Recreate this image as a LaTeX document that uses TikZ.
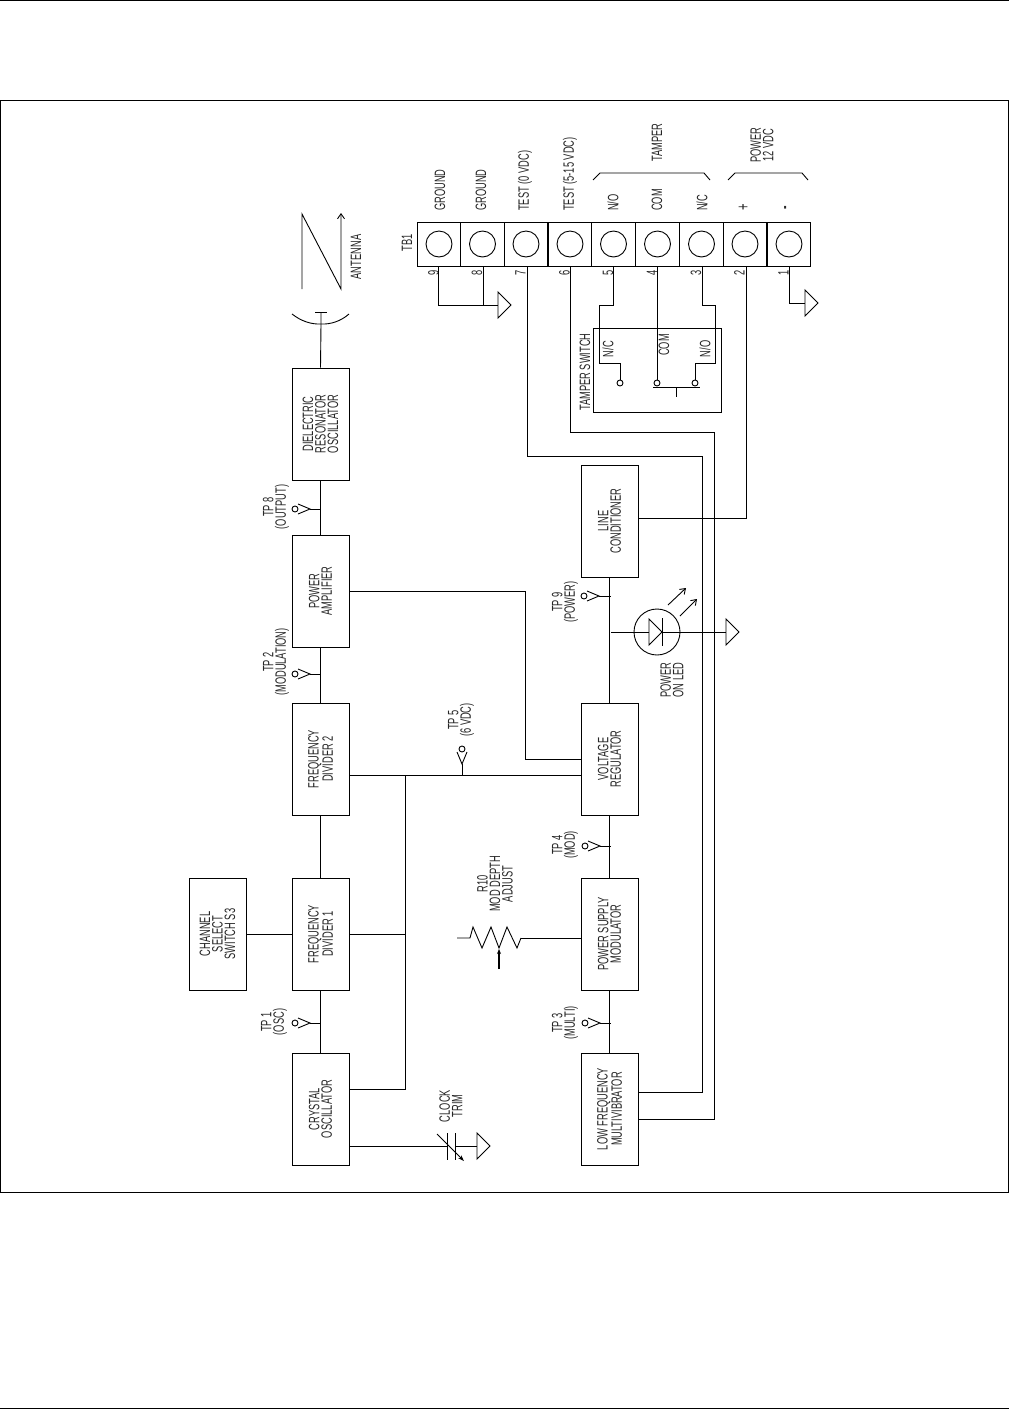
\documentclass[tikz,border=0pt]{standalone}
\usepackage{fontspec}
\setmainfont[FakeStretch=0.62]{Liberation Sans}
\usetikzlibrary{arrows.meta}
\tikzset{
  wire/.style={line width=0.9pt},
  blockbox/.style={draw,line width=1pt,rotate=90,minimum width=112pt,minimum height=57pt,inner sep=0pt,align=center,text=black!85,font=\fontsize{15}{12.5}\selectfont},
  lbl/.style={rotate=90,align=center,inner sep=0pt,text=black!85,font=\fontsize{15}{12.5}\selectfont},
  openarrow/.style={wire,-{Straight Barb[length=5pt,width=7pt]}},
  gndtip/.pic={\draw[wire] (0,-13) -- (13,0) -- (0,13) -- cycle;},
  tpoint/.pic={\draw[wire] (-12,-5) -- (0,0) -- (-12,5); \draw[wire] (-15,0) circle (3);},
}
\newcommand{\TermCell}[2]{%
  \node[draw,line width=1pt,minimum width=43.7pt,minimum height=44pt,inner sep=0pt] (t#1) at (#2,244) {};
  \draw[wire] (t#1.center) circle (13);
}
\begin{document}
\begin{tikzpicture}[x=1pt,y=-1pt]
\useasboundingbox (0,0) rectangle (1009,1409);
% page rules and frame
\draw[line width=1pt] (0,0.5) -- (1009,0.5);
\draw[line width=1pt] (0,1408) -- (1009,1408);
\draw[line width=1pt] (0.7,100) rectangle (1008,1192);
% blocks
\node[blockbox] (dro) at (320.5,424) {DIELECTRIC\\RESONATOR\\OSCILLATOR};
\node[blockbox] (pamp) at (320.5,591) {POWER\\AMPLIFIER};
\node[blockbox] (fdtwo) at (320.5,759) {FREQUENCY\\DIVIDER 2};
\node[blockbox] (fdone) at (320.5,934) {FREQUENCY\\DIVIDER 1};
\node[blockbox] (xtal) at (320.5,1109) {CRYSTAL\\OSCILLATOR};
\node[blockbox] (chsel) at (217.5,934) {CHANNEL\\SELECT\\SWITCH S3};
\node[blockbox] (linec) at (609.5,521) {LINE\\CONDITIONER};
\node[blockbox] (vreg) at (609.5,759) {VOLTAGE\\REGULATOR};
\node[blockbox] (psmod) at (609.5,934) {POWER SUPPLY\\MODULATOR};
\node[blockbox] (lfm) at (609.5,1109) {LOW FREQUENCY\\MULTIVIBRATOR};
% terminal block
\foreach \n/\x in {9/439,8/482.5,7/526,6/570,5/613.5,4/657.5,3/701.5,2/745,1/789}{
  \TermCell{\n}{\x}
  \node[lbl] (n\n) at (\x-5.5,273) {\n};
}
\node[lbl] (tbone) at (407,243) {TB1};
\foreach \nm/\x/\txt in {a/440/GROUND,b/481/GROUND,c/525/TEST (0 VDC),d/570/TEST (5-15 VDC),e/613/{N/O},f/657/COM,g/702/{N/C}}{
  \node[lbl,anchor=west] (top\nm) at (\x,211) {\txt};
}
\node[lbl,font=\fontsize{18}{18}\selectfont] (plus) at (744,207) {+};
\node[lbl,font=\bfseries\fontsize{17}{17}\selectfont] (minus) at (787,208) {-};
\node[lbl,anchor=west] (tamper) at (657,162) {TAMPER};
\node[lbl,anchor=west] (pwr) at (762,163) {POWER\\12 VDC};
\draw[wire] (593,180) -- (600,173) -- (704,173) -- (710,180);
\draw[wire] (728,180) -- (735,173) -- (802,173) -- (808,180);
% antenna
\coordinate (dish) at (321,324);
\draw[wire] (dro.east) -- (dish) -- (321,312);
\draw[wire] (315,312) -- (327,312);
\draw[wire] (292,314) .. controls (301,321) and (311,324.5) .. (dish) .. controls (331,324.5) and (341,321) .. (349,314);
\draw[openarrow] (302,289) -- (302,214) -- (341,289) -- (341,213);
\node[lbl] (ant) at (356,257) {ANTENNA};
% grounds on the terminal block
\coordinate (gnda) at (498,305);
\coordinate (gndb) at (805,303);
\draw[wire] (438,266) -- (438,305) -- (gnda);
\draw[wire] (483,266) -- (483,305);
\pic at (gnda) {gndtip};
\draw[wire] (789,266) -- (789,303) -- (gndb);
\pic at (gndb) {gndtip};
% tamper switch
\draw[wire] (593,328) rectangle (721,412);
\draw[wire] (613,266) -- (613,305) -- (599,305) -- (599,363) -- (620,363) -- (620,380);
\draw[wire] (657,266) -- (657,380);
\draw[wire] (702,266) -- (702,305) -- (715,305) -- (715,363) -- (695,363) -- (695,380);
\foreach \x in {620,657,695}{
  \draw[wire] (\x,383) circle (3);
}
\draw[wire] (653,387) -- (700,387);
\draw[wire] (676,387) -- (676,397);
\node[lbl] (tsw) at (585,372) {TAMPER SWITCH};
\node[lbl] (swnc) at (608,349) {N/C};
\node[lbl] (swcom) at (664,345) {COM};
\node[lbl] (swno) at (705,349) {N/O};
% long wires
\coordinate (lfmu) at (638,1092);
\coordinate (lfml) at (638,1119);
\draw[wire] (527,266) -- (527,456) -- (702,456) -- (702,1092) -- (lfmu);
\draw[wire] (570,266) -- (570,432) -- (714,432) -- (714,1119) -- (lfml);
\coordinate (linecr) at (638,518);
\draw[wire] (746,266) -- (746,518) -- (linecr);
% block links
\draw[wire] (dro.west) -- (pamp.east);
\draw[wire] (pamp.west) -- (fdtwo.east);
\draw[wire] (fdtwo.west) -- (fdone.east);
\draw[wire] (fdone.west) -- (xtal.east);
\draw[wire] (chsel.south) -- (fdone.north);
\draw[wire] (linec.west) -- (vreg.east);
\draw[wire] (vreg.west) -- (psmod.east);
\draw[wire] (psmod.west) -- (lfm.east);
\draw[wire] (pamp.south) -- (525,591) -- (525,759) -- (vreg.north);
\coordinate (fdtwor) at (349,775);
\coordinate (vregl) at (581,775);
\coordinate (busx) at (405,775);
\draw[wire] (fdtwor) -- (vregl);
\draw[wire] (busx) -- (405,1089) -- (349,1089);
\draw[wire] (fdone.south) -- (405,934);
% test points
\foreach \nm/\x/\y/\a/\bx/\by in {tpe/310/509/0/321/509,tpb/310/674/0/321/674,tpa/310/1023/0/321/1023,tpf/462/764/-90/462/775,tpd/600/846/0/611/846,tpc/600/1023/0/611/1023,tpi/599/596/0/611/596}{
  \coordinate (\nm) at (\x,\y);
  \draw[wire] (\nm) -- (\bx,\by);
  \pic[rotate=\a] at (\nm) {tpoint};
}
\node[lbl] (ltpe) at (276,507) {TP 8\\(OUTPUT)};
\node[lbl] (ltpb) at (276,662) {TP 2\\(MODULATION)};
\node[lbl] (ltpa) at (274,1022) {TP 1\\(OSC)};
\node[lbl] (ltpf) at (461,720) {TP 5\\(6 VDC)};
\node[lbl] (ltpd) at (565,845) {TP 4\\(MOD)};
\node[lbl] (ltpc) at (565,1023) {TP 3\\(MULTI)};
\node[lbl] (ltpi) at (565,602) {TP 9\\(POWER)};
% power led
\coordinate (led) at (657,632);
\coordinate (gndc) at (726,632);
\draw[wire] (611,632) -- (649,632);
\draw[wire] (led) circle (23);
\draw[wire] (649,619) -- (662,632) -- (649,645) -- cycle;
\draw[wire] (662,618) -- (662,646);
\draw[wire] (662,632) -- (gndc);
\pic at (gndc) {gndtip};
\draw[openarrow] (668,605) -- (686,588);
\draw[openarrow] (680,616) -- (697,599);
\node[lbl] (ledl) at (672,680) {POWER\\ON LED};
% mod depth pot
\coordinate (potr) at (521,938);
\coordinate (psmodl) at (581,938);
\draw[wire] (457,938) -- (470,938) -- (473,927) -- (482,948) -- (491,927) -- (499,948) -- (507,927) -- (517,948) -- (potr);
\draw[wire] (potr) -- (psmodl);
\draw[line width=1.4pt,-{Stealth[length=5pt,width=4pt]}] (499,969) -- (499,949);
\node[lbl] (rten) at (495,884) {R10\\MOD DEPTH\\ADJUST};
% clock trim
\coordinate (gndd) at (477,1146);
\draw[wire] (349,1146) -- (447,1146);
\draw[wire] (447,1133) -- (447,1160);
\draw[wire] (455,1133) -- (455,1160);
\draw[wire] (455,1146) -- (gndd);
\pic at (gndd) {gndtip};
\draw[wire,-{Stealth[length=6pt,width=4pt]}] (437,1134) -- (464,1161);
\node[lbl] (clk) at (451,1106) {CLOCK\\TRIM};
\end{tikzpicture}
\end{document}
